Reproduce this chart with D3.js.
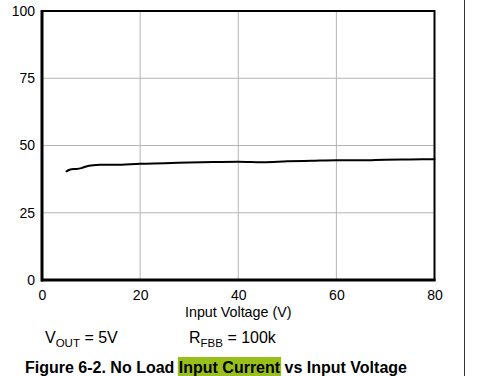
<!DOCTYPE html>
<html><head><meta charset="utf-8">
<script src="https://cdn.jsdelivr.net/npm/d3@7"></script>
<style>body{margin:0;background:#fff}svg{display:block;font-family:"Liberation Sans",Arial,sans-serif}</style>
</head><body>
<svg id="c" width="478" height="376"></svg>
<script>
const voltage = [5, 5.5, 6, 7, 8, 9, 10, 12, 15, 20, 25, 30, 35, 40, 45, 50, 55, 60, 65, 70, 75, 80];
const current = [40.4, 40.9, 41.2, 41.3, 41.6, 42.2, 42.6, 42.8, 42.8, 43.2, 43.4, 43.7, 43.9, 44.0, 43.8, 44.1, 44.3, 44.5, 44.5, 44.7, 44.8, 44.9];
const xTicks = [0, 20, 40, 60, 80];
const yTicks = [0, 25, 50, 75, 100];
const xLabel = "Input Voltage (V)";

const svg = d3.select("#c");
const L = 42, R = 434.5, T = 11, B = 280;
const x = d3.scaleLinear().domain([0, 80]).range([L, R]);
const y = d3.scaleLinear().domain([0, 100]).range([B, T]);

// caption highlight layer (drawn first, behind text)
const hlLayer = svg.append("g");

// grid
svg.append("g").selectAll("line").data(xTicks.slice(1, -1)).join("line")
  .attr("x1", d => x(d)).attr("x2", d => x(d)).attr("y1", T).attr("y2", B)
  .attr("stroke", "#b4b4b4").attr("stroke-width", 1);
svg.append("g").selectAll("line").data(yTicks.slice(1, -1)).join("line")
  .attr("x1", L).attr("x2", R).attr("y1", d => y(d)).attr("y2", d => y(d))
  .attr("stroke", "#b4b4b4").attr("stroke-width", 1);

// curve
svg.append("path").datum(voltage.map((v, i) => [v, current[i]]))
  .attr("fill", "none").attr("stroke", "#000").attr("stroke-width", 2)
  .attr("stroke-linejoin", "round").attr("stroke-linecap", "round")
  .attr("d", d3.line().x(d => x(d[0])).y(d => y(d[1])).curve(d3.curveMonotoneX));

// frame
svg.append("rect").attr("x", L).attr("y", T).attr("width", R - L).attr("height", B - T)
  .attr("fill", "none").attr("stroke", "#000").attr("stroke-width", 2);
svg.append("line").attr("x1", L).attr("x2", L).attr("y1", T - 1).attr("y2", B + 1.5)
  .attr("stroke", "#000").attr("stroke-width", 3);
svg.append("line").attr("x1", L - 1).attr("x2", R + 1).attr("y1", B).attr("y2", B)
  .attr("stroke", "#000").attr("stroke-width", 3);

// axes labels via d3 axes (no lines)
const xa = svg.append("g").attr("transform", `translate(0,${B})`)
  .call(d3.axisBottom(x).tickValues(xTicks).tickSize(0).tickPadding(10).tickFormat(d3.format("d")));
xa.select(".domain").remove();
xa.selectAll("text").attr("font-size", 14).attr("fill", "#000").attr("font-family", "Liberation Sans, Arial, sans-serif");
const ya = svg.append("g").attr("transform", `translate(${L - 1},0)`)
  .call(d3.axisLeft(y).tickValues(yTicks).tickSize(0).tickPadding(6).tickFormat(d3.format("d")));
ya.select(".domain").remove();
ya.selectAll("text").attr("font-size", 14).attr("fill", "#000").attr("font-family", "Liberation Sans, Arial, sans-serif");

svg.append("text").attr("x", x(40)).attr("y", 317).attr("text-anchor", "middle")
  .attr("font-size", 14.3).text(xLabel);

// conditions
const c1 = svg.append("text").attr("x", 45).attr("y", 343).attr("font-size", 16);
c1.append("tspan").text("V");
c1.append("tspan").attr("font-size", 11.5).attr("dy", 4).text("OUT");
c1.append("tspan").attr("dy", -4).text(" = 5V");
const c2 = svg.append("text").attr("x", 189).attr("y", 343).attr("font-size", 16);
c2.append("tspan").text("R");
c2.append("tspan").attr("font-size", 11.5).attr("dy", 4).text("FBB");
c2.append("tspan").attr("dy", -4).text(" = 100k");

// caption
const cap = svg.append("text").attr("x", 25).attr("y", 373).attr("font-size", 16).attr("font-weight", "bold");
cap.append("tspan").text("Figure 6-2. No Load ");
cap.append("tspan").text("Input Current");
cap.append("tspan").text(" vs Input Voltage");
const capNode = cap.node();
const start = capNode.getStartPositionOfChar(20);
const end = capNode.getEndPositionOfChar(32);
hlLayer.append("rect").attr("x", start.x - 1).attr("y", 357).attr("width", end.x - start.x + 2).attr("height", 19)
  .attr("fill", "#99c01a");

// right page line
svg.append("line").attr("x1", 464.5).attr("x2", 464.5).attr("y1", 0).attr("y2", 376)
  .attr("stroke", "#333").attr("stroke-width", 1);
</script>
</body></html>
